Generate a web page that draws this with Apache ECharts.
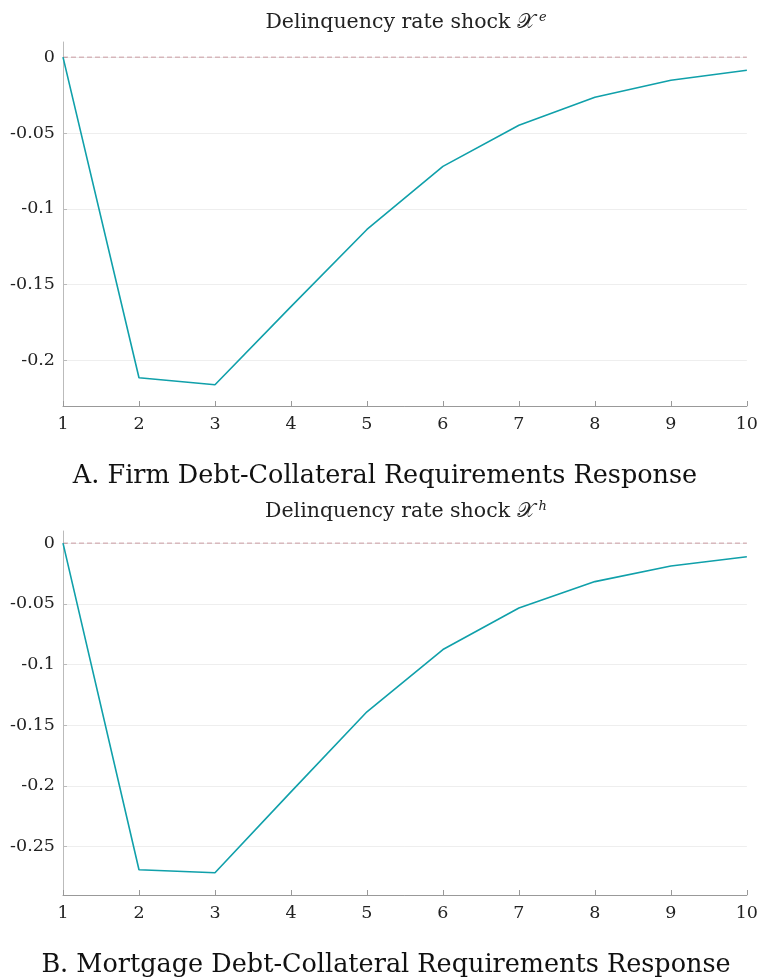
<!DOCTYPE html>
<html>
<head>
<meta charset="utf-8">
<script src="https://cdn.jsdelivr.net/npm/echarts@6/dist/echarts.min.js"></script>
<style>
  html, body { margin: 0; padding: 0; background: #fff; }
  #chart { width: 761px; height: 978px; }
</style>
</head>
<body>
<div id="chart"></div>
<script>
var periods = [1, 2, 3, 4, 5, 6, 7, 8, 9, 10];
var firmResponse = [0, -0.2114, -0.2160, -0.1645, -0.1136, -0.0720, -0.0449, -0.0264, -0.0152, -0.0086];
var mortgageResponse = [0, -0.2692, -0.2716, -0.2050, -0.1390, -0.0877, -0.0535, -0.0317, -0.0189, -0.0112];
var zeroLine = [0, 0, 0, 0, 0, 0, 0, 0, 0, 0];
var firmTicks = [0, -0.05, -0.1, -0.15, -0.2];
var mortgageTicks = [0, -0.05, -0.1, -0.15, -0.2, -0.25];

var serif = '"DejaVu Serif", "Liberation Serif", serif';
var lineColor = '#10a0aa';
var zeroColor = '#c99aa0';

var toPairs = function(ys){
	var out = [];
	for(var i = 0; i < periods.length; i++){
		out.push([periods[i], ys[i]]);
	}
	return out;
};

var xAxisFor = function(idx){
	return {
		type: 'value', gridIndex: idx, min: 1, max: 10, interval: 1,
		axisLine: { show: true, onZero: false, lineStyle: { color: '#999', width: 1 } },
		axisTick: { show: true, inside: true, length: 5, lineStyle: { color: '#999' } },
		axisLabel: { color: '#222', fontFamily: serif, fontSize: 17.5, margin: 9 },
		splitLine: { show: false }
	};
};

var yAxisFor = function(idx, min, ticks){
	return {
		type: 'value', gridIndex: idx, min: min, max: 0.01,
		axisLine: { show: true, lineStyle: { color: '#bbb', width: 1 } },
		axisTick: { show: true, inside: true, length: 4, customValues: ticks, lineStyle: { color: '#bbb' } },
		axisLabel: { color: '#222', fontFamily: serif, fontSize: 17.5, margin: 8, customValues: ticks,
			formatter: function(v){ return v === 0 ? '0' : String(+v.toFixed(2)); } },
		splitLine: { show: true, lineStyle: { color: '#eeeeee', width: 1 } }
	};
};

// dashed zero reference, drawn under the response line
var zeroSeriesFor = function(idx){
	return {
		type: 'line', xAxisIndex: idx, yAxisIndex: idx, data: toPairs(zeroLine),
		showSymbol: false, symbol: 'none', silent: true,
		lineStyle: { color: zeroColor, type: [5, 3], width: 1 },
		z: 3
	};
};

var seriesFor = function(idx, ys){
	return {
		type: 'line', xAxisIndex: idx, yAxisIndex: idx, data: toPairs(ys),
		showSymbol: false, symbol: 'none',
		lineStyle: { color: lineColor, width: 1.6 },
		z: 5
	};
};

var titleText = function(sup){
	return '{t|Delinquency rate shock }{x|\uD835\uDCB3}{s|' + sup + '}';
};
var titleRich = {
	t: { fontFamily: serif, fontSize: 20.5, fontWeight: 'normal', color: '#222' },
	x: { fontFamily: serif, fontSize: 21, fontWeight: 'normal', color: '#222' },
	s: { fontFamily: serif, fontSize: 13, fontWeight: 'normal', color: '#222', fontStyle: 'italic', verticalAlign: 'top', padding: [0, 0, 11, 4] }
};
var captionStyle = { fontFamily: serif, fontSize: 25.5, fontWeight: 'normal', color: '#111' };

var myChart = echarts.init(document.getElementById('chart'), null, { renderer: 'canvas' });
var option = {
	backgroundColor: '#fff',
	animation: false,
	title: [
		{ text: titleText('e'), left: 401, top: 6, textAlign: 'center', textStyle: { fontWeight: 'normal', rich: titleRich } },
		{ text: 'A. Firm Debt-Collateral Requirements Response', left: 380, top: 458, textAlign: 'center', textStyle: captionStyle },
		{ text: titleText('h'), left: 401, top: 495, textAlign: 'center', textStyle: { fontWeight: 'normal', rich: titleRich } },
		{ text: 'B. Mortgage Debt-Collateral Requirements Response', left: 381, top: 947, textAlign: 'center', textStyle: captionStyle }
	],
	grid: [
		{ left: 63, right: 13, top: 42, height: 364 },
		{ left: 63, right: 13, top: 531, height: 364 }
	],
	xAxis: [xAxisFor(0), xAxisFor(1)],
	yAxis: [yAxisFor(0, -0.23, firmTicks), yAxisFor(1, -0.29, mortgageTicks)],
	series: [zeroSeriesFor(0), seriesFor(0, firmResponse), zeroSeriesFor(1), seriesFor(1, mortgageResponse)]
};
myChart.setOption(option);
</script>
</body>
</html>
